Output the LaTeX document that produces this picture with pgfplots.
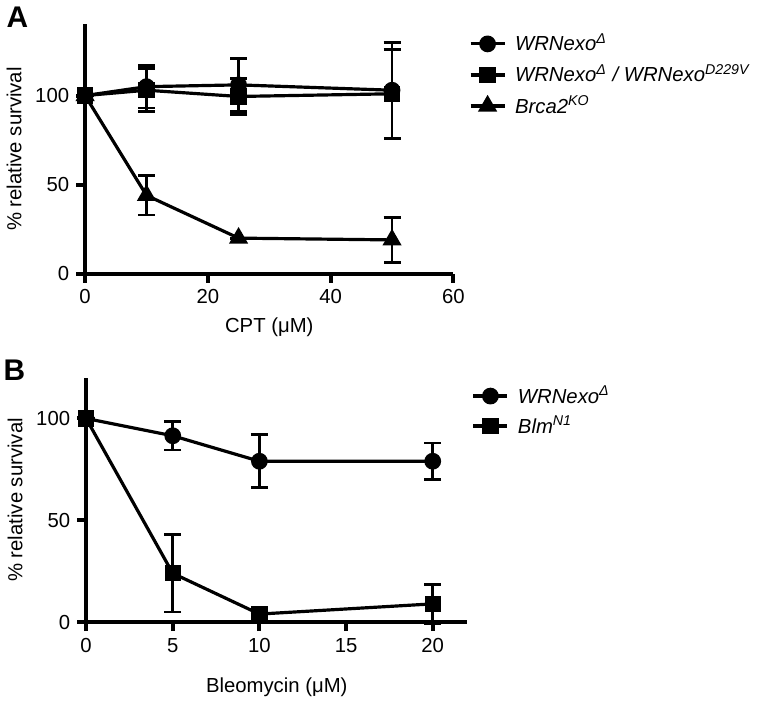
\documentclass[border=0pt]{standalone}
\usepackage{pgfplots}
\pgfplotsset{compat=1.18}
\usepackage{fontspec}
\setmainfont{Liberation Sans}
\begin{document}
\begin{tikzpicture}
\path (0,0) rectangle (387.5pt,-350.5pt);
\pgfplotsset{
  myax/.style={
    scale only axis,
    axis x line=bottom, axis y line=left,
    axis line style={-, line width=2pt},
    tick align=outside, major tick length=4.5pt,
    every tick/.style={black, line width=2pt},
    tick label style={font=\fontsize{10.2}{12}\selectfont},
    label style={font=\fontsize{10.2}{12}\selectfont},
    /pgf/number format/assume math mode=true,
    ytick={0,50,100},
    ylabel={\% relative survival},
    clip=false,
    legend cell align=left,
    legend style={draw=none, fill=none, anchor=north west,
      font=\fontsize{10.2}{12}\selectfont, row sep=1.5pt,
      nodes={inner xsep=4.5pt}},
  },
  ser/.style={black, line width=1.6pt, mark options={solid},
    error bars/y dir=both, error bars/y explicit,
    error bars/error bar style={line width=1.4pt},
    error bars/error mark options={line width=1.4pt, mark size=4.25pt, rotate=90}},
}
% Panel A
\begin{axis}[myax,
  at={(41pt,-137.5pt)}, anchor=south west,
  width=185pt, height=125.3pt,
  xmin=0, xmax=60, ymin=0, ymax=140,
  xtick={0,20,40,60},
  xlabel={CPT (μM)},
  legend style={at={(1.025,0.995)}},
]
\addplot[ser, mark=*, mark size=3.4pt] table[y error index=2] {
0 100 0
10 105 12
25 106 15
50 103 27
};
\addlegendentry{\textit{WRNexo\textsuperscript{Δ}}}
\addplot[ser, mark=square*, mark size=3.3pt] table[y error index=2] {
0 100 0
10 103 12
25 99.5 10
50 101 25
};
\addlegendentry{\textit{WRNexo\textsuperscript{Δ} / WRNexo\textsuperscript{D229V}}}
\addplot[ser, mark=triangle*, mark size=4pt] table[y error index=2] {
0 100 0
10 44 11
25 20 0
50 19 12.5
};
\addlegendentry{\textit{Brca2\textsuperscript{KO}}}
\end{axis}
% Panel B
\begin{axis}[myax,
  at={(41.5pt,-312.5pt)}, anchor=south west,
  width=191.5pt, height=122.8pt,
  xmin=0, xmax=22, ymin=0, ymax=120,
  xtick={0,5,10,15,20},
  xlabel={Bleomycin (μM)},
  xlabel style={yshift=-6pt},
  legend style={at={(0.995,1.0)}, row sep=1pt},
]
\addplot[ser, mark=*, mark size=3.4pt] table[y error index=2] {
0 100 0
5 91.5 7
10 79 13
20 79 9
};
\addlegendentry{\textit{WRNexo\textsuperscript{Δ}}}
\addplot[ser, mark=square*, mark size=3.3pt] table[y error index=2] {
0 100 0
5 24 19
10 4 0
20 9 9.5
};
\addlegendentry{\textit{Blm\textsuperscript{N1}}}
\end{axis}
\node[inner sep=0pt, font=\bfseries\fontsize{15}{17}\selectfont] at (7pt,-8.5pt) {A};
\node[inner sep=0pt, font=\bfseries\fontsize{15}{17}\selectfont] at (5.5pt,-186pt) {B};
\end{tikzpicture}
\end{document}
